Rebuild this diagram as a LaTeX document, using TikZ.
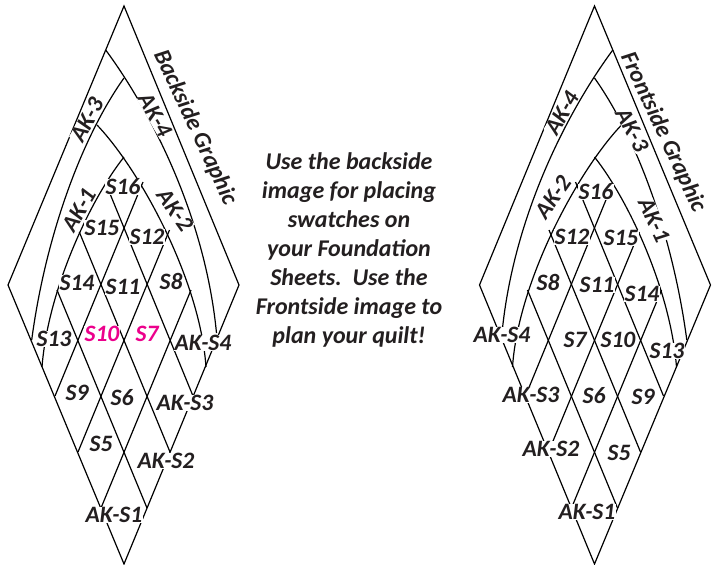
\documentclass[tikz,border=0pt]{standalone}
\usepackage{fontspec}
\setmainfont{Carlito}
\definecolor{ink}{HTML}{231F20}
\definecolor{hot}{HTML}{EC008C}
\tikzset{
  wire/.style={line width=1.2pt,black,line join=miter},
  lbl/.style={font=\fontsize{23.5}{23.5}\selectfont\bfseries\itshape,text=ink,fill=white,inner sep=0.4pt,text height=15pt,text depth=0pt},
  pinklbl/.style={lbl,text=hot},
  title/.style={lbl,fill=none,font=\fontsize{23.7}{23.7}\selectfont\bfseries\itshape},
  note/.style={font=\fontsize{24}{29}\selectfont\bfseries\itshape,text=ink,align=center,inner sep=0pt}
}
\newcommand{\quiltlines}{%
  \coordinate (T) at (124,6); \coordinate (B) at (124,564);
  \coordinate (W) at (8,285); \coordinate (E) at (239,285);
  \coordinate (L1) at (101,508); \coordinate (L2) at (78,452); \coordinate (L3) at (55,396);
  \coordinate (R1) at (147,508); \coordinate (R2) at (170,452); \coordinate (R3) at (193,396);
  \coordinate (a1) at (105.7,50); \coordinate (a2) at (216.5,333);
  \coordinate (b1) at (124,78); \coordinate (b2) at (31.7,340);
  \coordinate (c1) at (97,125); \coordinate (c2) at (206,367);
  \coordinate (d1) at (124,157); \coordinate (d2) at (42,367);
  \coordinate (eL1) at (191,290); \coordinate (eL2) at (169.5,230); \coordinate (eL3) at (143,182);
  \coordinate (eR1) at (57,290); \coordinate (eR2) at (79.3,232); \coordinate (eR3) at (106,184);
  \draw[wire] (T) -- (E) -- (B) -- (W) -- cycle;
  \draw[wire] (a1) .. controls (150,110) and (205,215) .. (a2);
  \draw[wire] (b1) .. controls (80,140) and (45,240) .. (b2);
  \draw[wire] (c1) .. controls (140,170) and (200,280) .. (c2);
  \draw[wire] (d1) .. controls (90,200) and (48,290) .. (d2);
  \draw[wire] (L1) -- (eL1); \draw[wire] (L2) -- (eL2); \draw[wire] (L3) -- (eL3);
  \draw[wire] (R1) -- (eR1); \draw[wire] (R2) -- (eR2); \draw[wire] (R3) -- (eR3);
}
\begin{document}
\begin{tikzpicture}[x=1pt,y=-1pt]
\useasboundingbox (0,0) rectangle (718,565);
\begin{scope}
\quiltlines
\end{scope}
\begin{scope}[shift={(718.5,0)},xscale=-1]
\quiltlines
\end{scope}
% left panel labels
\node[title,rotate=-65] (bg) at (196,127) {Backside Graphic};
\node[lbl,rotate=62] (l1) at (87,120) {AK-3};
\node[lbl,rotate=-60] (l2) at (155,115) {AK-4};
\node[lbl,rotate=60] (l3) at (79,210) {AK-1};
\node[lbl,rotate=-55] (l4) at (175,210) {AK-2};
\node[lbl] (l5) at (123,187) {S16};
\node[lbl] (l6) at (102,228) {S15};
\node[lbl] (l7) at (147,237) {S12};
\node[lbl] (l8) at (77,283) {S14};
\node[lbl] (l9) at (123,287) {S11};
\node[lbl] (l10) at (171,282) {S8};
\node[lbl] (l11) at (54,339) {S13};
\node[pinklbl] (l12) at (102,334) {S10};
\node[pinklbl] (l13) at (147,334) {S7};
\node[lbl] (l14) at (203,343) {AK-S4};
\node[lbl] (l15) at (77,393) {S9};
\node[lbl] (l16) at (122,398) {S6};
\node[lbl] (l17) at (185,403) {AK-S3};
\node[lbl] (l18) at (101,444) {S5};
\node[lbl] (l19) at (166,461) {AK-S2};
\node[lbl] (l20) at (114,515) {AK-S1};
% right panel labels
\node[title,rotate=-65] (fg) at (664,132) {Frontside Graphic};
\node[lbl,rotate=60] (r1) at (562,113) {AK-4};
\node[lbl,rotate=-62] (r2) at (632,130) {AK-3};
\node[lbl,rotate=55] (r3) at (553,197) {AK-2};
\node[lbl] (r4) at (596,192) {S16};
\node[lbl,rotate=-65] (r5) at (654,220) {AK-1};
\node[lbl] (r6) at (572,237) {S12};
\node[lbl] (r7) at (621,238) {S15};
\node[lbl] (r8) at (548,283) {S8};
\node[lbl] (r9) at (597,285) {S11};
\node[lbl] (r10) at (642,294) {S14};
\node[lbl] (r11) at (502,335) {AK-S4};
\node[lbl] (r12) at (575,340) {S7};
\node[lbl] (r13) at (618,340) {S10};
\node[lbl] (r14) at (667,351) {S13};
\node[lbl] (r15) at (531,395) {AK-S3};
\node[lbl] (r16) at (594,396) {S6};
\node[lbl] (r17) at (643,397) {S9};
\node[lbl] (r18) at (551,449) {AK-S2};
\node[lbl] (r19) at (619,453) {S5};
\node[lbl] (r20) at (587,512) {AK-S1};
% centre note
\node[note] (note) at (349,250) {Use the backside\\image for placing\\swatches on\\your Foundation\\Sheets.\ \ Use the\\Frontside image to\\plan your quilt!};
\end{tikzpicture}
\end{document}
